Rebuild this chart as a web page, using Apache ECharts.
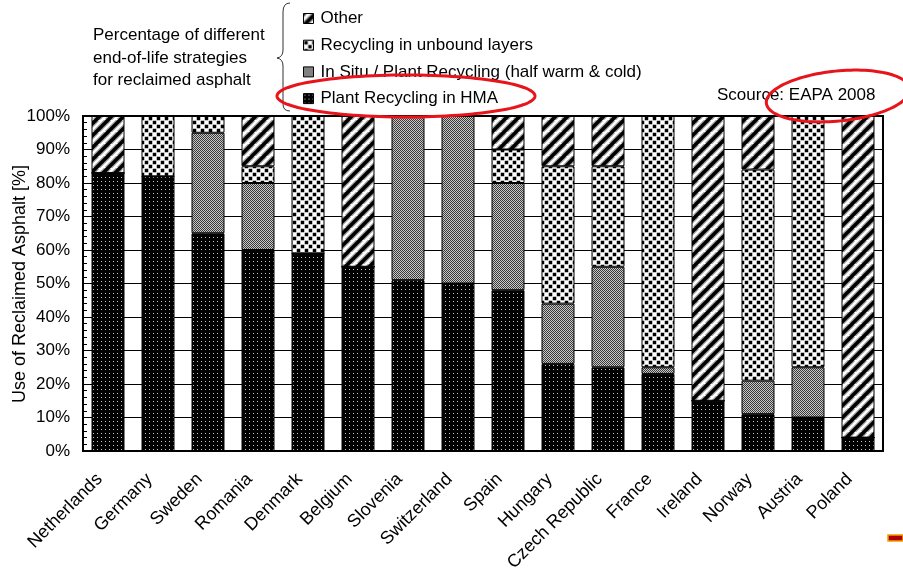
<!DOCTYPE html>
<html><head><meta charset="utf-8">
<script src="https://cdn.jsdelivr.net/npm/echarts@6/dist/echarts.min.js"></script>
<style>html,body{margin:0;padding:0;background:#fff}#c{width:903px;height:575px}</style>
</head><body><div id="c"></div>
<script>
const countries = ['Netherlands','Germany','Sweden','Romania','Denmark','Belgium','Slovenia','Switzerland','Spain','Hungary','Czech Republic','France','Ireland','Norway','Austria','Poland'];
const plantHMA   = [83, 82, 65, 60, 59, 55, 51, 50, 48, 26, 25, 23, 15, 11, 10, 4];
const inSitu     = [0,  0,  30, 20, 0,  0,  49, 50, 32, 18, 30, 2,  0,  10, 15, 0];
const unbound    = [0,  18, 5,  5,  41, 0,  0,  0,  10, 41, 30, 75, 0,  63, 75, 0];
const other      = [17, 0,  0,  15, 0,  45, 0,  0,  10, 15, 15, 0,  85, 16, 0,  96];
const yTicks = [0,10,20,30,40,50,60,70,80,90,100];

const FONT = 'Liberation Sans, Arial, sans-serif';

function mk(w,h,draw){const c=document.createElement('canvas');c.width=w;c.height=h;const g=c.getContext('2d');draw(g,w,h);return c;}
const patHMA = mk(4,4,(g)=>{g.fillStyle='#000';g.fillRect(0,0,4,4);g.fillStyle='#c8c8c8';g.fillRect(1,1,1,1);});
const patSitu = mk(2,2,(g)=>{g.fillStyle='#c8c8c8';g.fillRect(0,0,2,2);g.fillStyle='#3a3a3a';g.fillRect(0,0,1,1);g.fillRect(1,1,1,1);});
const patUnb = mk(8,8,(g)=>{g.fillStyle='#fff';g.fillRect(0,0,8,8);g.fillStyle='#000';g.fillRect(0.75,0.75,3.5,3.5);g.fillRect(4.75,4.75,3.5,3.5);g.fillRect(-3.25,4.75,3.5,3.5);g.fillRect(4.75,-3.25,3.5,3.5);});
const patOther = mk(12,12,(g)=>{g.fillStyle='#fff';g.fillRect(0,0,12,12);
  for(const [lw,col] of [[6,'#a0a0a0'],[3.5,'#000']]){g.strokeStyle=col;g.lineWidth=lw;
  for(let k=-1;k<=1;k++){g.beginPath();g.moveTo(k*12-1,13);g.lineTo(k*12+13,-1);g.stroke();}}});

const names = ['Plant Recycling in HMA','In Situ / Plant Recycling (half warm & cold)','Recycling in unbound layers','Other'];
const pats = [patHMA, patSitu, patUnb, patOther];
const datas = [plantHMA, inSitu, unbound, other];

function ellipsePts(cx,cy,rx,ry,rot){const p=[];const c=Math.cos(rot),s=Math.sin(rot);
  for(let i=0;i<120;i++){const t=i/120*Math.PI*2;const x=rx*Math.cos(t),y=ry*Math.sin(t);p.push([cx+x*c-y*s,cy+x*s+y*c]);}return p;}
const RED='#e8141c';
const braceStroke={stroke:'#333',lineWidth:1,fill:null};
const note=(t,y)=>({type:'text',x:93,y:y,style:{text:t,font:'17px '+FONT,fill:'#000',verticalAlign:'middle'}});

const chart = echarts.init(document.getElementById('c'), null, {renderer:'canvas'});
chart.setOption({
  animation:false,
  backgroundColor:'#fff',
  textStyle:{fontFamily:FONT},
  grid:{left:83,right:20,top:116,bottom:124,containLabel:false,outerBoundsMode:'none',show:true,borderColor:'#000',borderWidth:2,backgroundColor:'transparent'},
  legend:{
    data:[names[3],names[2],names[1],names[0]],
    orient:'vertical',left:303,top:10,padding:0,itemGap:9.7,
    itemWidth:10,itemHeight:10,icon:'rect',itemStyle:{borderColor:'#000',borderWidth:1},
    textStyle:{fontSize:17,color:'#000',fontFamily:FONT,padding:[0,0,0,2]},
    selectedMode:false
  },
  xAxis:{type:'category',data:countries,
    axisLine:{show:true,lineStyle:{color:'#000',width:2}},
    axisTick:{show:false},
    axisLabel:{rotate:45,fontSize:18,color:'#000',fontFamily:FONT,margin:17,interval:0,padding:[0,12,0,0]}
  },
  yAxis:{type:'value',min:0,max:100,interval:10,
    axisLine:{show:true,lineStyle:{color:'#000',width:2}},
    axisTick:{show:true,inside:true,length:7,lineStyle:{color:'#000'}},
    minorTick:{show:true,splitNumber:5,length:4,lineStyle:{color:'#000'}},
    splitLine:{show:true,lineStyle:{color:'#000',width:1}},
    axisLabel:{formatter:(v)=>yTicks.includes(v)?v+'%':'',fontSize:17,color:'#000',fontFamily:FONT,margin:13}
  },
  series: names.map((n,i)=>({
    name:n,type:'bar',stack:'all',barWidth:'66%',
    data:datas[i],
    itemStyle:{color:{image:pats[i],repeat:'repeat'},borderColor:'#000',borderWidth:1},
    emphasis:{disabled:true}
  })),
  graphic:[
    {type:'text',x:20,y:284,rotation:Math.PI/2,style:{text:'Use of Reclaimed Asphalt [%]',font:'18px '+FONT,fill:'#000',align:'center',verticalAlign:'middle'}},
    note('Percentage of different',35),note('end-of-life strategies',58),note('for reclaimed asphalt',80),
    {type:'bezierCurve',shape:{x1:290,y1:3,cpx1:283,cpy1:3,x2:283,y2:12},style:braceStroke},
    {type:'line',shape:{x1:283,y1:12,x2:283,y2:50},style:braceStroke},
    {type:'bezierCurve',shape:{x1:283,y1:50,cpx1:283,cpy1:57,x2:277,y2:58},style:braceStroke},
    {type:'bezierCurve',shape:{x1:277,y1:58,cpx1:283,cpy1:59,x2:283,y2:66},style:braceStroke},
    {type:'line',shape:{x1:283,y1:66,x2:283,y2:104},style:braceStroke},
    {type:'bezierCurve',shape:{x1:283,y1:104,cpx1:283,cpy1:111,x2:290,y2:111},style:braceStroke},
    {type:'text',x:717,y:95,style:{text:'Scource: EAPA 2008',font:'17px '+FONT,fill:'#000',verticalAlign:'middle'}},
    {type:'polygon',shape:{points:ellipsePts(406,96,129,21,0)},style:{fill:null,stroke:RED,lineWidth:3},z:100},
    {type:'polygon',shape:{points:ellipsePts(838,96,72,25,-0.1)},style:{fill:null,stroke:RED,lineWidth:3},z:100},
    {type:'rect',shape:{x:888,y:535,width:15,height:6},style:{fill:'#b00000',stroke:'#f0a000',lineWidth:1.5},z:100}
  ]
});
</script></body></html>
